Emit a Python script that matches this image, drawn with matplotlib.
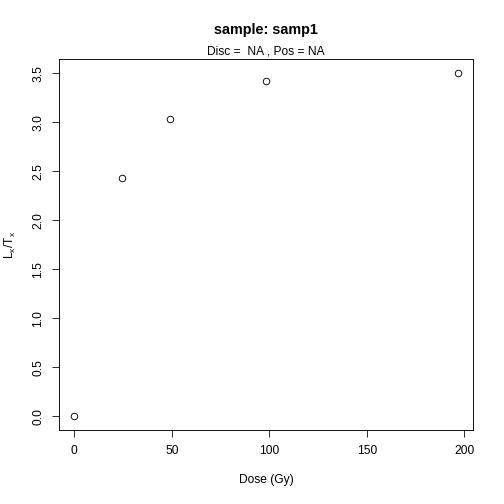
import matplotlib
matplotlib.use('Agg')
import matplotlib.pyplot as plt

dose = [0, 24.5, 49, 98, 196.5]
lx_tx = [0.0, 2.43, 3.03, 3.42, 3.505]
x_ticks = [0, 50, 100, 150, 200]
y_ticks = [0.0, 0.5, 1.0, 1.5, 2.0, 2.5, 3.0, 3.5]

plt.rcParams['font.family'] = ['Liberation Sans', 'DejaVu Sans']

fig = plt.figure(figsize=(7, 7), dpi=72)
ax = fig.add_axes([59 / 504, 1 - 430 / 504, 414 / 504, 371 / 504])

ax.plot(dose, lx_tx, linestyle='none', marker='o', markersize=6.5,
        markerfacecolor='none', markeredgecolor='black', markeredgewidth=0.9)

# R style 4% padding
xr = max(dose) - min(dose)
yr = max(lx_tx) - min(lx_tx)
ax.set_xlim(min(dose) - 0.04 * xr, max(dose) + 0.04 * xr)
ax.set_ylim(min(lx_tx) - 0.04 * yr, max(lx_tx) + 0.04 * yr)

ax.set_xticks(x_ticks)
ax.set_xticklabels([str(v) for v in x_ticks])
ax.set_yticks(y_ticks)
ax.set_yticklabels(['%.1f' % v for v in y_ticks], rotation=90, va='center')
ax.tick_params(direction='out', length=7, width=0.8, labelsize=12, pad=8)
for s in ax.spines.values():
    s.set_linewidth(0.9)

cx = 266 / 504
fig.text(cx, 1 - 30 / 504, 'sample: samp1', ha='center', va='center',
         fontsize=14.4, fontweight='bold')
fig.text(cx, 1 - 51 / 504, 'Disc =  NA , Pos = NA', ha='center',
         va='center', fontsize=12)
fig.text(cx, 1 - 480 / 504, 'Dose (Gy)', ha='center', va='center',
         fontsize=12)
fig.text(10 / 504, 1 - 245 / 504, r'L$_\mathregular{x}$/T$_\mathregular{x}$',
         ha='center', va='center', rotation=90, fontsize=12)

fig.savefig('out.png', dpi=72)
